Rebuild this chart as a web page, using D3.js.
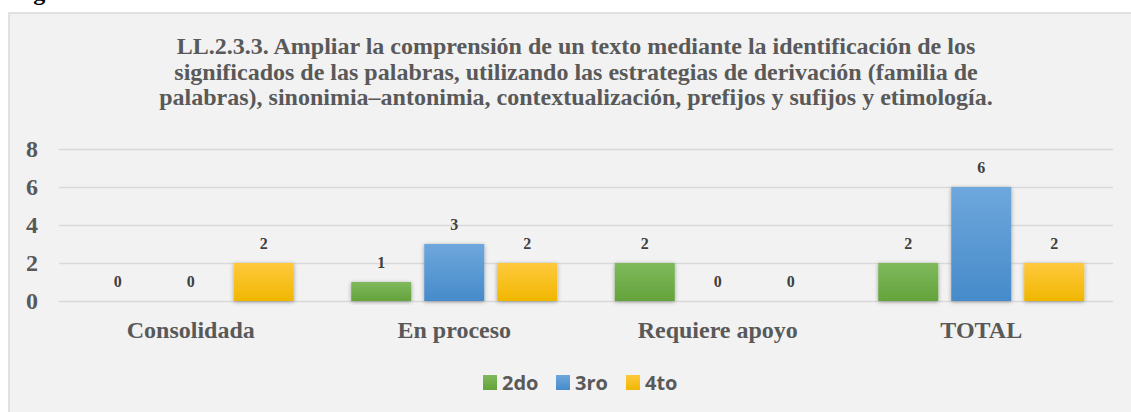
<!DOCTYPE html>
<html>
<head>
<meta charset="utf-8">
<script src="https://cdn.jsdelivr.net/npm/d3@7"></script>
<style>
  body { margin: 0; background: #fff; }
  svg { display: block; }
</style>
</head>
<body>
<div class="chart"></div>
<script>
var categories = ['Consolidada', 'En proceso', 'Requiere apoyo', 'TOTAL'];
var seriesNames = ['2do', '3ro', '4to'];
var values2do = [0, 1, 2, 2];
var values3ro = [0, 3, 0, 6];
var values4to = [2, 2, 0, 2];
var yTicks = [0, 2, 4, 6, 8];
var titleLines = [
  'LL.2.3.3. Ampliar la comprensión de un texto mediante la identificación de los',
  'significados de las palabras, utilizando las estrategias de derivación (familia de',
  'palabras), sinonimia–antonimia, contextualización, prefijos y sufijos y etimología.'
];

var series = [values2do, values3ro, values4to];
var colors = [
  { top: '#7fb95c', bottom: '#64a33b' },
  { top: '#6ea7dc', bottom: '#468bca' },
  { top: '#ffc93e', bottom: '#f0b700' }
];

var W = 1131, H = 412;
var plot = { left: 59, right: 1113, top: 149, bottom: 301 };
var serif = '"Liberation Serif", "Times New Roman", serif';

var svg = d3.select('.chart')
  .append('svg')
    .attr('width', W)
    .attr('height', H);

var defs = svg.append('defs');
colors.forEach(function(c, i) {
  var g = defs.append('linearGradient')
    .attr('id', 'grad' + i)
    .attr('x1', 0).attr('y1', 0).attr('x2', 0).attr('y2', 1);
  g.append('stop').attr('offset', '0%').attr('stop-color', c.top);
  g.append('stop').attr('offset', '100%').attr('stop-color', c.bottom);
});
var shadow = defs.append('filter')
  .attr('id', 'shadow')
  .attr('x', '-20%').attr('y', '-20%').attr('width', '140%').attr('height', '140%');
shadow.append('feDropShadow')
  .attr('dx', 0).attr('dy', 1)
  .attr('stdDeviation', 2)
  .attr('flood-color', '#000')
  .attr('flood-opacity', 0.35);

// caption of the page, mostly cut off above the chart box
svg.append('text')
  .attr('x', 12)
  .attr('y', 0)
  .style('font-family', serif)
  .style('font-weight', 'bold')
  .style('font-size', '24px')
  .attr('fill', '#000')
  .text('Figura');

// chart area
svg.append('rect')
  .attr('x', 9)
  .attr('y', 13)
  .attr('width', W)
  .attr('height', H)
  .attr('fill', '#f2f2f2')
  .attr('stroke', '#d9d9d9')
  .attr('stroke-width', 1.5);

svg.append('g')
  .selectAll('text')
  .data(titleLines)
  .enter()
  .append('text')
    .attr('x', 576)
    .attr('y', (d, i) => 54 + i * 25.5)
    .attr('text-anchor', 'middle')
    .style('font-family', serif)
    .style('font-weight', 'bold')
    .style('font-size', '24px')
    .attr('fill', '#595959')
    .text(d => d);

var yScale = d3.scaleLinear()
  .domain([0, 8])
  .range([plot.bottom, plot.top]);

var x0 = d3.scaleBand()
  .domain(categories)
  .range([plot.left, plot.right]);

var x1 = d3.scaleBand()
  .domain(seriesNames)
  .range([28.75, x0.bandwidth() - 28.75])
  .paddingInner(0.178);

var yAxis = d3.axisLeft(yScale)
  .tickValues(yTicks)
  .tickSize(-(plot.right - plot.left))
  .tickPadding(21);

var gy = svg.append('g')
  .attr('transform', `translate(${plot.left}, 0)`)
  .call(yAxis);
gy.select('.domain').remove();
gy.selectAll('.tick line')
  .attr('stroke', '#d9d9d9')
  .attr('stroke-width', 1.5);
gy.selectAll('.tick text')
  .style('font-family', serif)
  .style('font-weight', 'bold')
  .style('font-size', '24px')
  .attr('fill', '#595959');

var xAxis = d3.axisBottom(x0)
  .tickSize(0)
  .tickPadding(20);

var gx = svg.append('g')
  .attr('transform', `translate(0, ${plot.bottom})`)
  .call(xAxis);
gx.select('.domain').remove();
gx.selectAll('.tick text')
  .style('font-family', serif)
  .style('font-weight', 'bold')
  .style('font-size', '24px')
  .attr('fill', '#595959');

var rows = categories.map((c, ci) => ({
  cat: c,
  vals: seriesNames.map((s, si) => ({ s: s, si: si, v: series[si][ci] }))
}));

var groups = svg.selectAll('.cat')
  .data(rows)
  .enter()
  .append('g')
    .attr('class', 'cat')
    .attr('transform', d => `translate(${x0(d.cat)}, 0)`);

groups.selectAll('rect')
  .data(d => d.vals.filter(v => v.v > 0))
  .enter()
  .append('rect')
    .attr('x', d => x1(d.s))
    .attr('y', d => yScale(d.v))
    .attr('width', x1.bandwidth())
    .attr('height', d => yScale(0) - yScale(d.v))
    .attr('fill', d => `url(#grad${d.si})`)
    .attr('filter', 'url(#shadow)');

groups.selectAll('.lbl')
  .data(d => d.vals)
  .enter()
  .append('text')
    .attr('class', 'lbl')
    .attr('x', d => x1(d.s) + x1.bandwidth() / 2)
    .attr('y', d => yScale(d.v) - 14.5)
    .attr('text-anchor', 'middle')
    .style('font-family', serif)
    .style('font-weight', 'bold')
    .style('font-size', '16px')
    .attr('fill', '#404040')
    .text(d => d.v);

// legend
var legendX = [483, 556, 626];
var legend = svg.selectAll('.leg')
  .data(seriesNames)
  .enter()
  .append('g')
    .attr('class', 'leg')
    .attr('transform', (d, i) => `translate(${legendX[i]}, 375)`);
legend.append('rect')
  .attr('width', 14)
  .attr('height', 15)
  .attr('fill', (d, i) => `url(#grad${i})`);
legend.append('text')
  .attr('x', 19)
  .attr('y', 14.5)
  .style('font-family', '"Open Sans", "Noto Sans", sans-serif')
  .style('font-weight', 'bold')
  .style('font-size', '20px')
  .attr('fill', '#595959')
  .text(d => d);
</script>
</body>
</html>
